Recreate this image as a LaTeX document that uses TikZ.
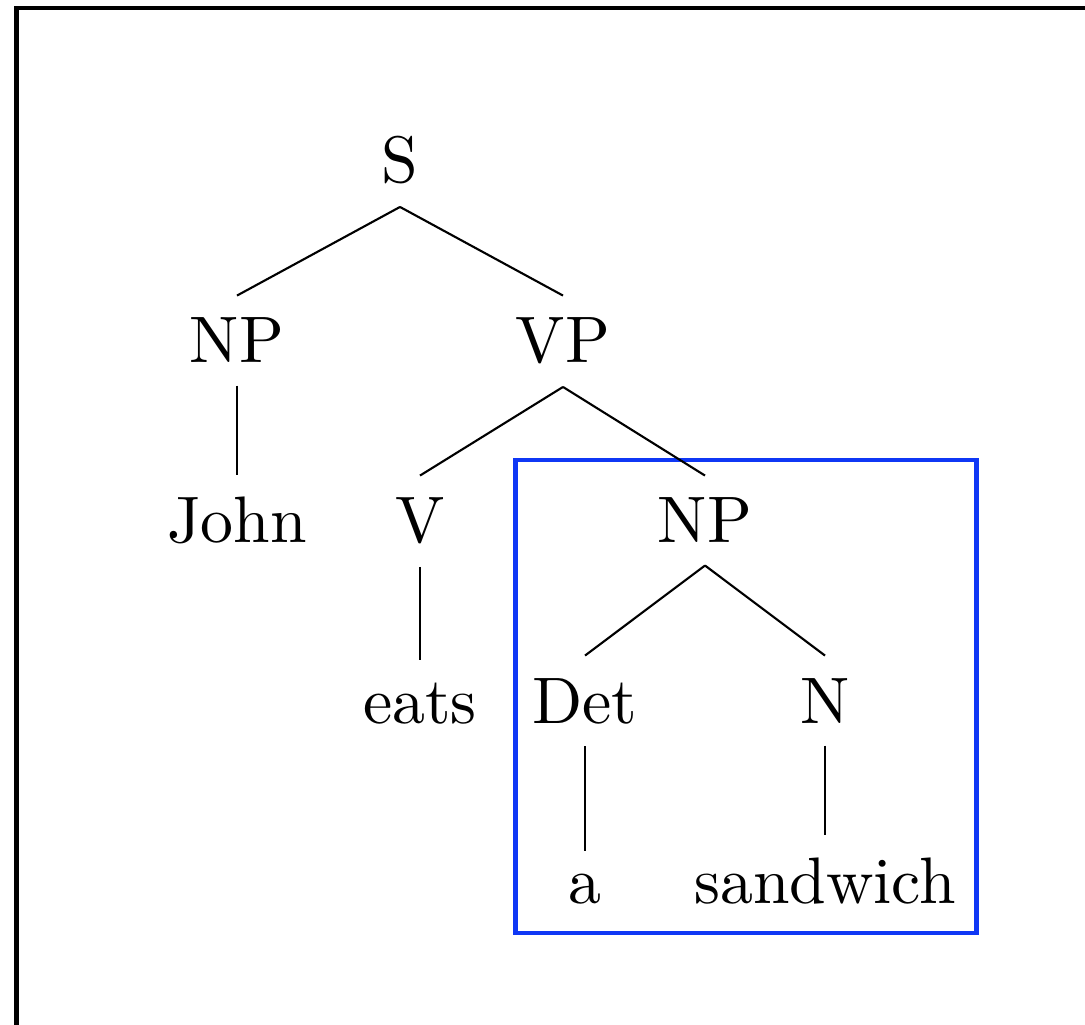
\documentclass[tikz,border=0pt]{standalone}
\usepackage{tikz}
\usetikzlibrary{calc}
\definecolor{boxblue}{RGB}{15,55,245}
\newcommand{\lbl}[1]{\scalebox{1.87}{#1}}
\tikzstyle{word} = [anchor=base,inner sep=6.2pt,font=\fontsize{10pt}{12pt}\selectfont]
\tikzstyle{branch} = [line width=0.6pt]

\begin{document}
\begin{tikzpicture}[x=0.01cm,y=-0.01cm]
\useasboundingbox (0,0) rectangle (1085,1025);
\clip (0,0) rectangle (1085,1025);
\draw[line width=1.4pt] (16.5,8) rectangle (1095,1027);
% highlighted subtree
\draw[boxblue,line width=1.2pt] (515.5,460) rectangle (976.5,933);
\node[word] (s) at (400,183) {\lbl{S}};
\node[word] (np1) at (237,363) {\lbl{NP}};
\node[word] (vp) at (563,363) {\lbl{VP}};
\node[word] (john) at (237,543) {\lbl{John}};
\node[word] (v) at (420,543) {\lbl{V}};
\node[word] (np2) at (705,543) {\lbl{NP}};
\node[word] (eats) at (420,723) {\lbl{eats}};
\node[word] (det) at (585,723) {\lbl{Det}};
\node[word] (n) at (825,723) {\lbl{N}};
\node[word] (a) at (585,903) {\lbl{a}};
\node[word] (sw) at (825,903) {\lbl{sandwich}};
\foreach \p/\c in {s/np1,s/vp,np1/john,vp/v,vp/np2,v/eats,np2/det,np2/n,det/a,n/sw}{
	\draw[branch] (\p.south) -- (\c.north);
}
\end{tikzpicture}
\end{document}
